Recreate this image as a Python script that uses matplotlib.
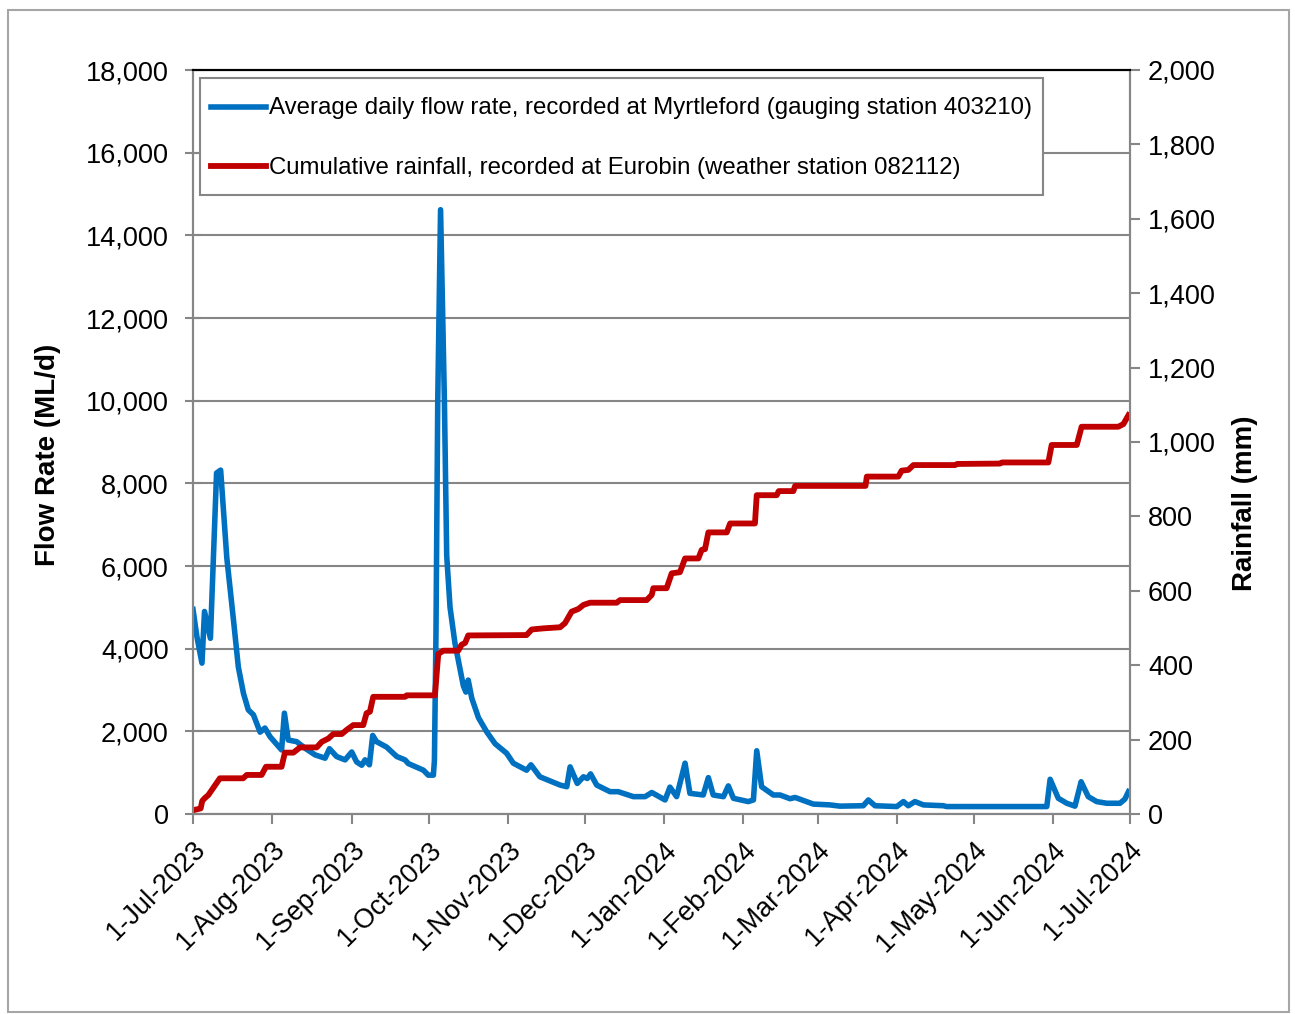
import pandas as pd
import matplotlib.pyplot as plt
from matplotlib.ticker import FuncFormatter
from matplotlib.lines import Line2D
from matplotlib.patches import Rectangle

plt.rcParams["font.family"] = ["Liberation Sans", "DejaVu Sans"]

start = pd.Timestamp("2023-07-01")

# average daily flow, Myrtleford (days after 1-Jul-2023, ML/d)
flow_days = [0, 1.5, 3.5, 4.5, 6.8, 9.2, 10.8, 13.2, 15.8, 17.7, 19.7, 21.6, 23.6,
             26.2, 28.1, 30.1, 34.6, 35.7, 37.2, 40.5, 43.8, 47.7, 51.6, 53.3,
             56.1, 59.4, 62, 63.9, 65.9, 67.2, 68.9, 70.2, 71.7, 75.6, 79.6, 82.8,
             84.1, 90, 91.9, 93.9, 94.3, 94.9, 95.6, 96.7, 98.2, 99.1, 100.4,
             102.3, 105.6, 106.6, 107.5, 108.9, 111.5, 114.7, 118, 122.5, 125.1,
             130.3, 132, 135.5, 143.4, 146, 147.3, 150.1, 152.5, 154, 155.3,
             157.7, 162.9, 166.1, 172, 176.6, 179.2, 184.4, 186.3, 188.9, 192.2,
             194.1, 199.3, 201.3, 203.2, 207.2, 209.1, 211.1, 216.9, 218.9,
             220.2, 222.1, 226.7, 229.3, 233.2, 235.2, 242.3, 248.8, 252.7,
             261.8, 263.8, 266.4, 274.9, 277.5, 279.4, 282, 285.3, 293.1, 294.4,
             333.5, 334.8, 338, 341.3, 344.5, 346.9, 349.7, 353, 356.9, 362.1,
             364, 365.4]
flow_vals = [4950, 4300, 3650, 4900, 4250, 8250, 8320, 6200, 4700, 3560, 2920, 2520, 2400,
             1980, 2080, 1870, 1550, 2440, 1790, 1750, 1590, 1430, 1350, 1580,
             1390, 1310, 1500, 1260, 1180, 1310, 1190, 1900, 1750, 1620, 1390, 1310,
             1220, 1060, 940, 940, 1300, 4300, 10000, 14620, 10000, 6250, 5000,
             4140, 3100, 2950, 3240, 2800, 2330, 1990, 1700, 1470, 1230,
             1060, 1190, 900, 700, 660, 1140, 740, 900, 860, 970,
             700, 540, 540, 420, 420, 520, 340, 650, 420, 1230,
             500, 460, 880, 460, 420, 680, 380, 300, 340,
             1530, 660, 460, 460, 370, 400, 240, 220, 190,
             200, 340, 200, 180, 300, 200, 300, 220, 200, 180,
             180, 840, 380, 260, 190, 780, 420, 300, 260, 260,
             360, 540]

# cumulative rainfall, Eurobin (days after 1-Jul-2023, mm)
rain_days = [0, 3.0, 3.6, 4.5, 6, 10.5, 19.6, 21, 26.8, 28.5, 34.6, 35.9, 39.2, 41.8,
             48.3, 50.3, 52.9, 54.8, 58.1, 60, 62.6, 66.5, 67.8, 69.1, 70.4, 82.8,
             83.5, 94.5, 95.8, 97.8, 103.6, 104.9, 106.3, 107.5, 130.3, 132.3,
             136.8, 143.4, 145.3, 147.9, 150.5, 152.5, 155.1, 165.5, 166.8, 177.2,
             179.2, 179.8, 185, 187, 190.2, 192.2, 197.4, 198.7, 200, 201.3, 208.5,
             209.8, 219.5, 220.2, 228, 228.8, 234.5, 235.2, 262.7, 263.2, 275.5,
             276.8, 279.4, 281.4, 297.7, 298.5, 315.2, 316, 334.1, 335.4, 345.2,
             347.1, 361.4, 363.4, 365.4]
rain_vals = [10, 15, 35, 42, 51, 96, 96, 105, 105, 127, 127, 165, 165, 179,
             179, 194, 203, 215, 215, 226, 239, 239, 271, 275, 315, 315,
             319, 319, 430, 439, 439, 455, 460, 480, 481, 496,
             499, 502, 513, 544, 551, 562, 568, 568, 575, 575,
             589, 607, 607, 647, 650, 687, 687, 710, 712, 757, 757,
             781, 781, 857, 857, 868, 868, 882, 882, 907, 907,
             923, 925, 938, 938, 941, 942, 945, 945, 992, 992,
             1041, 1041, 1048, 1072]

flow_dates = start + pd.to_timedelta(flow_days, unit="D")
rain_dates = start + pd.to_timedelta(rain_days, unit="D")
month_ticks = pd.date_range("2023-07-01", "2024-07-01", freq="MS")

blue = "#0070C0"
red = "#C00000"
grey = "#868686"

fig = plt.figure(figsize=(12.95, 10.14), dpi=100)
fig.patches.append(Rectangle((8 / 1295, 1 - 1012 / 1014), 1281 / 1295, 1002 / 1014,
                             transform=fig.transFigure, fill=False,
                             edgecolor="#A6A6A6", linewidth=1.5))

ax = fig.add_axes([193 / 1295, 1 - 814 / 1014, 937 / 1295, 744 / 1014])
ax2 = ax.twinx()

ax.plot(flow_dates, flow_vals, color=blue, linewidth=4, solid_joinstyle="round")
ax2.plot(rain_dates, rain_vals, color=red, linewidth=4.2, solid_joinstyle="round")

ax.set_xlim(start, pd.Timestamp("2024-07-01"))
ax.set_ylim(0, 18000)
ax2.set_ylim(0, 2000)
ax.set_yticks(range(0, 18001, 2000))
ax2.set_yticks(range(0, 2001, 200))
ax.yaxis.set_major_formatter(FuncFormatter(lambda v, p: f"{int(v):,}"))
ax2.yaxis.set_major_formatter(FuncFormatter(lambda v, p: f"{int(v):,}"))

ax.set_xticks(month_ticks)
ax.set_xticklabels([f"{d.day}-{d.strftime('%b-%Y')}" for d in month_ticks],
                   rotation=45, ha="right", rotation_mode="anchor")

ax.grid(axis="y", color=grey, linewidth=1.5)
ax.set_axisbelow(True)

for a in (ax, ax2):
    for s in ("left", "right", "bottom"):
        a.spines[s].set_color(grey)
        a.spines[s].set_linewidth(1.5)
    a.spines["top"].set_color("black")
    a.spines["top"].set_linewidth(1.5)

ax.tick_params(axis="y", direction="inout", length=11, width=1.5, color=grey,
               labelsize=19.5, pad=12)
ax.tick_params(axis="x", direction="out", length=7, width=1.5, color=grey,
               labelsize=19.5, pad=9)
ax2.tick_params(axis="y", direction="out", length=7, width=1.5, color=grey,
                labelsize=19.5, pad=6)

fig.text(48 / 1295, 1 - 455 / 1014, "Flow Rate (ML/d)", rotation=90, fontsize=20,
         fontweight="bold", ha="center", va="center")
fig.text(1245 / 1295, 1 - 503 / 1014, "Rainfall (mm)", rotation=90, fontsize=20,
         fontweight="bold", ha="center", va="center")

handles = [Line2D([], [], color=blue, linewidth=4),
           Line2D([], [], color=red, linewidth=4.2)]
labels = ["Average daily flow rate, recorded at Myrtleford (gauging station 403210)",
          "Cumulative rainfall, recorded at Eurobin (weather station 082112)"]
leg = ax2.legend(handles, labels, loc="upper left", bbox_to_anchor=(7 / 937, 736 / 744),
                 borderaxespad=0, fontsize=17.3, handlelength=2.3, handletextpad=0.12,
                 handleheight=1.9, labelspacing=1.0, borderpad=0.45,
                 fancybox=False, framealpha=1)
leg.get_frame().set_edgecolor(grey)
leg.get_frame().set_linewidth(1.5)
# bring the legend lines down level with the middle of the text
for ln in leg.get_lines():
    ln.set_ydata([y - 3.6 for y in ln.get_ydata()])

fig.savefig("out.png", dpi=100)
